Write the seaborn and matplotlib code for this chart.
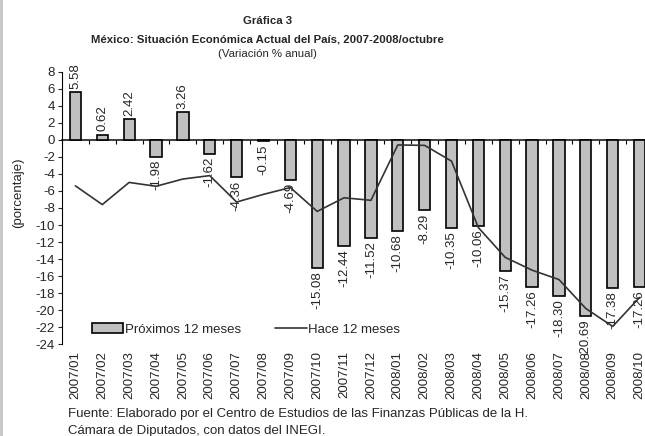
import numpy as np
import matplotlib
matplotlib.use("Agg")
import matplotlib.pyplot as plt
import seaborn as sns
from matplotlib.patches import Patch, Rectangle
from matplotlib.lines import Line2D

# Data
periodos = ["2007/01", "2007/02", "2007/03", "2007/04", "2007/05", "2007/06",
            "2007/07", "2007/08", "2007/09", "2007/10", "2007/11", "2007/12",
            "2008/01", "2008/02", "2008/03", "2008/04", "2008/05", "2008/06",
            "2008/07", "2008/08", "2008/09", "2008/10"]
proximos_12 = [5.58, 0.62, 2.42, -1.98, 3.26, -1.62, -4.36, -0.15, -4.69, -15.08,
               -12.44, -11.52, -10.68, -8.29, -10.35, -10.06, -15.37, -17.26,
               -18.30, -20.69, -17.38, -17.26]
hace_12 = [-5.4, -7.6, -5.0, -5.45, -4.6, -4.2, -7.3, -6.4, -5.6, -8.4,
           -6.8, -7.1, -0.6, -0.65, -2.5, -10.3, -13.8, -15.3,
           -16.4, -19.8, -21.9, -18.5]
y_ticks = list(range(-24, 10, 2))

sns.set_theme(style="white")
plt.rcParams["font.family"] = ["Liberation Sans", "DejaVu Sans"]

fs = 9.5

fig = plt.figure(figsize=(6.45, 4.36), dpi=100)
ax = fig.add_axes([0.0961, 0.2103, 0.9163, 0.6253])

x = np.arange(len(periodos))
sns.barplot(x=periodos, y=proximos_12, color="#c0c0c0", edgecolor="black",
            linewidth=1.2, width=0.42, saturation=1, ax=ax)
sns.lineplot(x=x, y=hace_12, color="#333333", linewidth=1.2, ax=ax)

ax.set_xlim(-0.5, len(periodos) - 0.5)
ax.set_ylim(-24, 8)
ax.set_yticks(y_ticks)
ax.set_yticklabels([str(v) for v in y_ticks], fontsize=fs)
ax.set_xticks(x)
ax.set_xticklabels(periodos, rotation=90, fontsize=fs)
ax.tick_params(axis="x", length=0, pad=5)
ax.tick_params(axis="y", length=3, width=0.8, direction="out", pad=2, left=True)

for s in ["top", "right", "bottom"]:
    ax.spines[s].set_visible(False)
ax.spines["left"].set_color("black")
ax.spines["left"].set_linewidth(0.8)

# axis line at zero with boundary ticks
zero_ax = ax.secondary_xaxis(0.75)
zero_ax.set_xticks(np.arange(-0.5, len(periodos), 1.0))
zero_ax.set_xticklabels([])
zero_ax.tick_params(axis="x", length=3, width=0.8, direction="in", color="black")
zero_ax.spines["bottom"].set_color("black")
zero_ax.spines["bottom"].set_linewidth(0.8)

# value labels
for i, v in enumerate(proximos_12):
    if v >= 0:
        ax.text(i, v + 0.4, f"{v:.2f}", rotation=90, ha="center", va="bottom", fontsize=fs)
    else:
        ax.text(i, v - 0.4, f"{v:.2f}", rotation=90, ha="center", va="top", fontsize=fs)

ax.set_ylabel("(porcentaje)", fontsize=fs)
ax.yaxis.set_label_coords(-0.064, 0.555)
ax.set_xlabel("")

handles = [Patch(facecolor="#c0c0c0", edgecolor="black", linewidth=1.2),
           Line2D([0], [0], color="#333333", linewidth=1.2)]
ax.legend(handles, ["Próximos 12 meses", "Hace 12 meses"], ncol=2, frameon=False,
          fontsize=fs, handlelength=2.4, handleheight=0.8, handletextpad=0.1,
          columnspacing=2.6, loc="center left", bbox_to_anchor=(0.03, 0.055))

fig.text(0.414, 0.952, "Gráfica 3", ha="center", va="center", fontsize=8.2, fontweight="bold")
fig.text(0.414, 0.910, "México: Situación Económica Actual del País, 2007-2008/octubre",
         ha="center", va="center", fontsize=8.2, fontweight="bold")
fig.text(0.414, 0.877, "(Variación % anual)", ha="center", va="center", fontsize=8.2)

fig.text(0.105, 0.050, "Fuente: Elaborado por el Centro de Estudios de las Finanzas Públicas de la H.",
         ha="left", va="center", fontsize=fs)
fig.text(0.105, 0.012, "Cámara de Diputados, con datos del INEGI.",
         ha="left", va="center", fontsize=fs)

fig.patches.append(Rectangle((0, 0), 0.004, 1, transform=fig.transFigure,
                             facecolor="#c8c8c8", edgecolor="none"))

fig.savefig("out.png", dpi=100)
